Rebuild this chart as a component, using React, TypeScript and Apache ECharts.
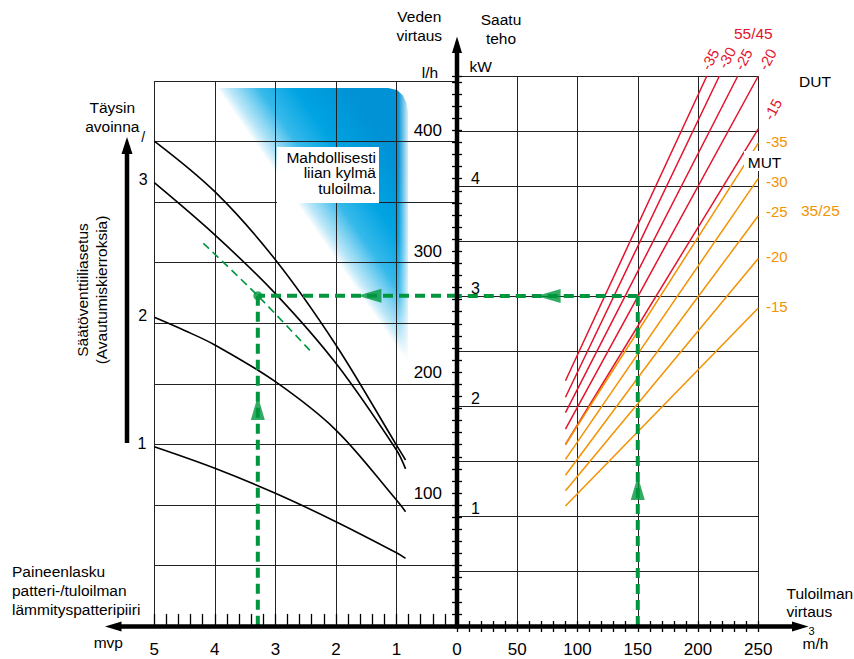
import React, { useEffect, useRef } from 'react';
import * as echarts from 'echarts';

const FONT = '"Liberation Sans", Arial, Helvetica, sans-serif';
const RED = '#e3132c';
const ORANGE = '#f39200';
const GREEN = '#00963f';
const GRIDC = '#222';

// ---- Left half: pressure drop (mvp) vs water flow (l/h), per valve setting ----
const valveLabels = ['1', '2', '3', '/'];
const valve1 = [[5, 138.3], [4, 120.5], [3, 99.8], [2, 76.3], [1, 50.6], [0.85, 46]];
const valve2 = [[5, 245.4], [4.5, 234.5], [4, 222.5], [3, 192.1], [2, 152.1], [1, 94.2], [0.85, 84.6]];
const valve3 = [[5, 356.7], [4, 313.5], [3, 265], [2, 207.3], [1, 135.6], [0.85, 120]];
const valve4 = [[5, 391.2], [4, 349.3], [3, 293], [2, 222.5], [1, 139.7], [0.85, 127.3]];
const interpolated = [[4.19, 306.6], [3.29, 263.2], [2.41, 216.9]];

// ---- Right half: supply air flow (m3/h) vs power (kW) ----
const dutLabels = ['-35', '-30', '-25', '-20', '-15'];
const red5545 = [
  [[90, 2.23], [207.3, 5]],
  [[90, 2.08], [217.7, 5]],
  [[90, 1.94], [233, 5]],
  [[90, 1.79], [250, 5]],
  [[90, 1.65], [250, 4.52]],
];
const orange3525 = [
  [[90, 1.65], [250, 4.39]],
  [[90, 1.515], [250, 4.07]],
  [[90, 1.37], [250, 3.73]],
  [[90, 1.23], [250, 3.34]],
  [[90, 1.09], [250, 2.89]],
];

// ---- Reading example ----
const exAirflow = 150;
const exPower = 3;
const exWaterFlow = 263.2;
const exMvp = 3.29;

// ---- Tick labels ----
const mvpLabels = [1, 2, 3, 4, 5];
const flowLabels = [100, 200, 300, 400];
const powerLabels = [1, 2, 3, 4];

const txt = (text: string, x: number, y: number, o: any = {}) => ({
  type: 'text',
  x,
  y,
  z: o.z ?? 10,
  silent: true,
  rotation: o.rotation || 0,
  style: {
    text,
    fill: o.color || '#000',
    font: `${o.size || 15.5}px ${FONT}`,
    align: o.align || 'center',
    textAlign: o.align || 'center',
    verticalAlign: 'middle',
    textVerticalAlign: 'middle',
  },
});

const blueGradient = {
  type: 'linear',
  x: 217,
  y: 88,
  x2: 305,
  y2: 27,
  global: true,
  colorStops: [
    { offset: 0, color: 'rgba(0,165,228,0)' },
    { offset: 0.1, color: 'rgba(40,178,232,0.35)' },
    { offset: 0.32, color: 'rgba(10,170,230,0.82)' },
    { offset: 0.6, color: '#00a3e2' },
    { offset: 1, color: '#0092d5' },
  ],
};

const fadeRight = {
  type: 'linear', x: 0, y: 0, x2: 1, y2: 0,
  colorStops: [
    { offset: 0, color: 'rgba(255,255,255,0)' },
    { offset: 0.85, color: 'rgba(255,255,255,1)' },
    { offset: 1, color: 'rgba(255,255,255,1)' },
  ],
};

const blackCurve = (data: number[][]) => ({
  type: 'line', xAxisIndex: 1, yAxisIndex: 1, data, smooth: 0.35, showSymbol: false, symbol: 'none',
  silent: true, lineStyle: { color: '#000', width: 1.6 }, z: 3,
});

const tickStyle = { color: '#000', width: 1.3 };

const option: any = {
  animation: false,
  textStyle: { fontFamily: FONT },
  grid: [
    { left: 154.3, right: 397, top: 81, bottom: 33, outerBoundsMode: 'none', containLabel: false },
    { left: 154.3, right: 397, top: 76, bottom: 33, outerBoundsMode: 'none', containLabel: false },
    { left: 457, right: 95.7, top: 76, bottom: 33, outerBoundsMode: 'none', containLabel: false },
  ],
  xAxis: [
    {
      gridIndex: 0, type: 'value', min: 0, max: 5, interval: 1, inverse: true,
      axisLine: { show: false }, axisTick: { show: false }, axisLabel: { show: false },
      splitLine: { show: true, lineStyle: { color: GRIDC, width: 1 } },
    },
    {
      gridIndex: 1, type: 'value', min: 0, max: 5, interval: 1, inverse: true, offset: -5,
      axisLine: { show: false },
      axisTick: { show: true, length: 11, lineStyle: tickStyle },
      minorTick: { show: true, splitNumber: 5, length: 11, lineStyle: tickStyle },
      axisLabel: { customValues: mvpLabels, margin: 20, fontSize: 17, color: '#000' },
      splitLine: { show: false },
    },
    {
      gridIndex: 2, type: 'value', min: 0, max: 250, interval: 50, offset: -5,
      axisLine: { show: false },
      axisTick: { show: true, length: 11, lineStyle: tickStyle },
      minorTick: { show: true, splitNumber: 5, length: 11, lineStyle: tickStyle },
      axisLabel: { margin: 20, fontSize: 17, color: '#000' },
      splitLine: { show: true, lineStyle: { color: GRIDC, width: 1 } },
    },
  ],
  yAxis: [
    {
      gridIndex: 0, type: 'value', min: 0, max: 9, interval: 1,
      axisLine: { show: false }, axisTick: { show: false }, axisLabel: { show: false },
      splitLine: { show: true, lineStyle: { color: GRIDC, width: 1 } },
    },
    {
      gridIndex: 1, type: 'value', min: -10, max: 445, interval: 10, position: 'right', offset: -5,
      axisLine: { show: false },
      axisTick: { show: true, inside: false, length: 10, lineStyle: tickStyle },
      axisLabel: {
        customValues: flowLabels, inside: true, margin: 10, fontSize: 17, color: '#000',
        padding: [7, 0, 0, 0],
      },
      splitLine: { show: false },
    },
    {
      gridIndex: 2, type: 'value', min: 0, max: 5, interval: 0.5, position: 'left',
      axisLine: { show: false }, axisTick: { show: false },
      axisLabel: { customValues: powerLabels, inside: true, margin: 14, fontSize: 16, color: '#000', verticalAlign: 'bottom' },
      splitLine: { show: true, lineStyle: { color: GRIDC, width: 1 } },
    },
  ],
  series: [
    blackCurve(valve1),
    blackCurve(valve2),
    blackCurve(valve3),
    blackCurve(valve4),
    {
      type: 'line', xAxisIndex: 1, yAxisIndex: 1, data: interpolated, smooth: 0.3, showSymbol: false, symbol: 'none',
      silent: true, lineStyle: { color: GREEN, width: 1.6, type: [8, 5] }, z: 4,
    },
    ...red5545.map((d) => ({
      type: 'line', xAxisIndex: 2, yAxisIndex: 2, data: d, showSymbol: false, symbol: 'none', silent: true,
      lineStyle: { color: RED, width: 1.5 }, z: 3,
    })),
    ...orange3525.map((d) => ({
      type: 'line', xAxisIndex: 2, yAxisIndex: 2, data: d, showSymbol: false, symbol: 'none', silent: true,
      lineStyle: { color: ORANGE, width: 1.5 }, z: 3,
    })),
    // reading path
    {
      type: 'line', xAxisIndex: 2, yAxisIndex: 2, data: [[exAirflow, 0], [exAirflow, exPower]], showSymbol: false,
      symbol: 'none', silent: true, lineStyle: { color: GREEN, width: 4, type: [10, 6] }, z: 5,
    },
    {
      type: 'line', xAxisIndex: 2, yAxisIndex: 2, data: [[exAirflow, exPower], [0, exPower]], showSymbol: false,
      symbol: 'none', silent: true, lineStyle: { color: GREEN, width: 4, type: [10, 6] }, z: 5,
    },
    {
      type: 'line', xAxisIndex: 1, yAxisIndex: 1, data: [[0, exWaterFlow], [exMvp, exWaterFlow]], showSymbol: false,
      symbol: 'none', silent: true, lineStyle: { color: GREEN, width: 4, type: [10, 6] }, z: 5,
    },
    {
      type: 'line', xAxisIndex: 1, yAxisIndex: 1, data: [[exMvp, exWaterFlow], [exMvp, -10]], showSymbol: false,
      symbol: 'none', silent: true, lineStyle: { color: GREEN, width: 4, type: [10, 6] }, z: 5,
    },
    {
      type: 'scatter', xAxisIndex: 1, yAxisIndex: 1, data: [[exMvp, exWaterFlow]], symbol: 'circle', symbolSize: 9,
      itemStyle: { color: GREEN }, silent: true, z: 6,
    },
    // arrowheads on the reading path
    {
      type: 'scatter', xAxisIndex: 1, yAxisIndex: 1, data: [[exMvp, 170.3]], symbol: 'triangle', symbolSize: [14, 24],
      itemStyle: { color: GREEN }, silent: true, z: 6,
    },
    {
      type: 'scatter', xAxisIndex: 1, yAxisIndex: 1, data: [[1.446, exWaterFlow]], symbol: 'triangle', symbolSize: [14, 24],
      symbolRotate: 90, itemStyle: { color: GREEN }, silent: true, z: 6,
    },
    {
      type: 'scatter', xAxisIndex: 2, yAxisIndex: 2, data: [[exAirflow, 1.255]], symbol: 'triangle', symbolSize: [14, 24],
      itemStyle: { color: GREEN }, silent: true, z: 6,
    },
    {
      type: 'scatter', xAxisIndex: 2, yAxisIndex: 2, data: [[76, exPower]], symbol: 'triangle', symbolSize: [14, 24],
      symbolRotate: 90, itemStyle: { color: GREEN }, silent: true, z: 6,
    },
  ],
  graphic: {
    elements: [
      // blue "too cold" zone
      {
        type: 'polygon', z: -5, silent: true,
        shape: {
          points: [[217, 88], [388, 88], [397, 90], [403, 95.5], [406.5, 103], [408, 112], [408, 366], [217, 88]],
        },
        style: { fill: blueGradient },
      },
      { type: 'rect', z: -4, silent: true, shape: { x: 398, y: 80, width: 14, height: 292 }, style: { fill: fadeRight } },
      // info box
      { type: 'rect', z: 9, silent: true, shape: { x: 277, y: 147, width: 102, height: 56 }, style: { fill: '#fff' } },
      txt('Mahdollisesti', 376, 157.3, { align: 'right' }),
      txt('liian kylmä', 376, 172.7, { align: 'right' }),
      txt('tuloilma.', 376, 188.3, { align: 'right' }),
      // main axes
      { type: 'line', z: 8, silent: true, shape: { x1: 118, y1: 626.5, x2: 795, y2: 626.5 }, style: { stroke: '#000', lineWidth: 4.5 } },
      { type: 'polygon', z: 8, silent: true, shape: { points: [[105, 626.5], [121.5, 621.5], [121.5, 631.5]] }, style: { fill: '#000' } },
      { type: 'polygon', z: 8, silent: true, shape: { points: [[808.5, 626.5], [792, 621.5], [792, 631.5]] }, style: { fill: '#000' } },
      { type: 'line', z: 8, silent: true, shape: { x1: 457, y1: 628.5, x2: 457, y2: 50 }, style: { stroke: '#000', lineWidth: 4.5 } },
      { type: 'polygon', z: 8, silent: true, shape: { points: [[457, 36.5], [452, 53], [462, 53]] }, style: { fill: '#000' } },
      // valve-setting arrow
      { type: 'line', z: 8, silent: true, shape: { x1: 127, y1: 443, x2: 127, y2: 150 }, style: { stroke: '#000', lineWidth: 4.5 } },
      { type: 'polygon', z: 8, silent: true, shape: { points: [[127, 137], [121.5, 154], [132.5, 154]] }, style: { fill: '#000' } },
      // titles / axis names
      txt('Veden', 419.3, 16.7),
      txt('virtaus', 419.3, 35),
      txt('l/h', 430, 72.7),
      txt('Saatu', 501, 19),
      txt('teho', 501, 38.3),
      txt('kW', 480.7, 66),
      txt('Täysin', 112.3, 107.7),
      txt('avoinna', 112.3, 126.7),
      txt('Säätöventtiiliasetus', 82.5, 290, { rotation: Math.PI / 2 }),
      txt('(Avautumiskierroksia)', 101, 290, { rotation: Math.PI / 2 }),
      txt(valveLabels[0], 142, 443.3, { size: 16 }),
      txt(valveLabels[1], 142.7, 315, { size: 16 }),
      txt(valveLabels[2], 143.3, 179.3, { size: 16 }),
      txt(valveLabels[3], 143.3, 137.3, { size: 14 }),
      txt('Paineenlasku', 12, 571, { align: 'left' }),
      txt('patteri-/tuloilman', 12, 590, { align: 'left' }),
      txt('lämmityspatteripiiri', 12, 609, { align: 'left' }),
      txt('mvp', 108.3, 642.7),
      txt('Tuloilman', 786.5, 593.3, { align: 'left' }),
      txt('virtaus', 786.5, 611.7, { align: 'left' }),
      txt('m/h', 815.5, 643.3),
      txt('3', 811.5, 630.5, { size: 11 }),
      // DUT / MUT labels
      txt('55/45', 753.3, 33.3, { color: RED }),
      txt(dutLabels[0], 710, 59.3, { color: RED, size: 15, rotation: (62 * Math.PI) / 180 }),
      txt(dutLabels[1], 726.7, 57.7, { color: RED, size: 15, rotation: (62 * Math.PI) / 180 }),
      txt(dutLabels[2], 743.3, 59.3, { color: RED, size: 15, rotation: (62 * Math.PI) / 180 }),
      txt(dutLabels[3], 767.3, 59.3, { color: RED, size: 15, rotation: (62 * Math.PI) / 180 }),
      txt(dutLabels[4], 772.7, 109.3, { color: RED, size: 15, rotation: (62 * Math.PI) / 180 }),
      txt('DUT', 815, 81.7),
      txt(dutLabels[0], 766, 141.7, { color: ORANGE, size: 15, align: 'left' }),
      txt(dutLabels[1], 766, 181, { color: ORANGE, size: 15, align: 'left' }),
      txt(dutLabels[2], 766, 211.7, { color: ORANGE, size: 15, align: 'left' }),
      txt(dutLabels[3], 766, 256.7, { color: ORANGE, size: 15, align: 'left' }),
      txt(dutLabels[4], 766, 306.7, { color: ORANGE, size: 15, align: 'left' }),
      txt('35/25', 801, 210.7, { color: ORANGE, align: 'left' }),
      { type: 'rect', z: 11, silent: true, shape: { x: 744, y: 151, width: 40, height: 20 }, style: { fill: '#fff' } },
      txt('MUT', 764.5, 162, { z: 12 }),
    ],
  },
};

export default function App() {
  const ref = useRef<HTMLDivElement>(null);
  useEffect(() => {
    const chart = echarts.init(ref.current as HTMLDivElement, null, { renderer: 'svg' });
    chart.setOption(option);
    return () => chart.dispose();
  }, []);
  return (
    <div
      ref={ref}
      style={{ position: 'fixed', left: 0, top: 0, width: 854, height: 659, background: '#fff' }}
    />
  );
}
